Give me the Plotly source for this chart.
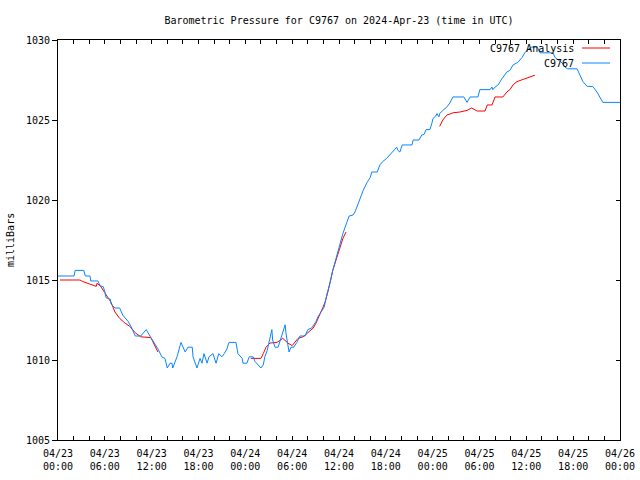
import pandas as pd
import plotly.graph_objects as go

title = "Barometric Pressure for C9767 on 2024-Apr-23 (time in UTC)"
start = "2024-04-23 00:00"
end = "2024-04-26 00:00"

# C9767 observations: hours since 2024-04-23 00:00 UTC, pressure (mb)
obs_hours = [0, 2.05, 2.2, 3.3, 3.5, 4.1, 4.2, 5.1, 5.4, 5.8, 6.0, 6.15, 6.7, 6.8, 7.3, 7.9,
             8.3, 9.0, 9.35, 9.9, 10.6, 11.3, 11.9, 12.4, 12.8, 13.3, 13.7, 14.0, 14.35, 14.6,
             14.7, 15.25, 15.75, 16.3, 16.65, 17.2, 17.3, 17.8, 18.2, 18.45, 18.7, 19.1, 19.35,
             19.85, 20.25, 20.6, 21.0, 21.3, 21.65, 21.9, 22.8, 23.05, 23.6, 23.7, 24.2, 24.5,
             25.0, 25.25, 25.6, 26.0, 26.3, 26.5, 26.8, 27.0, 27.4, 27.5, 27.8, 28.2, 28.6,
             28.8, 29.1, 29.2, 29.45, 29.6, 29.85, 30.2, 30.6, 31.0, 31.65, 32.0, 32.5, 32.8,
             33.05, 33.3, 33.55, 33.8, 34.1, 34.5, 34.85, 35.2, 35.7, 36.1, 36.5, 36.8, 37.0,
             37.3, 37.8, 38.05, 38.4, 38.7, 39.1, 39.6, 40.0, 40.2, 40.9, 41.25, 41.6, 42.1,
             42.5, 42.9, 43.4, 43.55, 43.8, 44.1, 45.35, 45.5, 46.25, 46.6, 46.9, 47.15, 47.65,
             47.9, 48.05, 48.4, 48.55, 48.8, 48.9, 49.3, 49.8, 50.2, 50.6, 52.0, 52.4, 52.8,
             53.8, 54.05, 55.35, 55.6, 55.7, 56.0, 56.4, 56.9, 57.5, 57.9, 58.3, 58.9, 59.45,
             59.8, 60.2, 60.7, 61.4, 61.75, 63.4, 63.7, 64.05, 64.6, 64.95, 65.3, 66.5, 66.9,
             67.25, 67.8, 68.5, 69.05, 69.4, 69.8, 72.0]
obs_mb = [1015.25, 1015.25, 1015.6, 1015.6, 1015.25, 1015.25, 1014.94, 1014.94, 1014.64,
          1014.58, 1014.27, 1013.9, 1013.8, 1013.5, 1013.25, 1013.25, 1012.8, 1012.4, 1012.1,
          1011.5, 1011.5, 1011.9, 1011.4, 1011.0, 1010.7, 1010.2, 1010.1, 1009.5, 1009.8,
          1009.8, 1009.5, 1010.2, 1011.1, 1010.5, 1010.8, 1010.8, 1010.2, 1009.5, 1010.1,
          1009.8, 1010.4, 1009.8, 1010.2, 1010.4, 1009.8, 1010.4, 1010.2, 1010.4, 1010.7,
          1011.1, 1011.1, 1010.4, 1010.1, 1009.8, 1009.8, 1010.2, 1010.2, 1009.9, 1009.7,
          1009.5, 1009.7, 1010.2, 1010.6, 1011.06, 1011.9, 1011.25, 1010.8, 1010.8, 1011.45,
          1011.75, 1012.2, 1011.7, 1010.8, 1010.5, 1010.8, 1010.8, 1011.1, 1011.5, 1011.5,
          1011.9, 1012.0, 1012.2, 1012.4, 1012.7, 1012.9, 1013.1, 1013.3, 1014.2, 1014.8,
          1015.6, 1016.4, 1017.2, 1017.9, 1018.25, 1018.6, 1019.0, 1019.06, 1019.25, 1019.7,
          1020.1, 1020.6, 1021.1, 1021.4, 1021.75, 1021.75, 1022.2, 1022.4, 1022.6, 1022.8,
          1023.0, 1023.3, 1023.1, 1023.0, 1023.44, 1023.44, 1023.75, 1023.75, 1024.06, 1024.1,
          1024.4, 1024.4, 1024.8, 1025.1, 1025.25, 1025.4, 1025.2, 1025.4, 1025.6, 1025.8,
          1026.06, 1026.44, 1026.44, 1026.1, 1026.44, 1026.44, 1026.9, 1026.9, 1027.06,
          1026.9, 1027.06, 1027.2, 1027.6, 1028.0, 1028.1, 1028.44, 1028.6, 1028.9, 1029.2,
          1029.4, 1029.56, 1029.56, 1029.2, 1029.2, 1028.9, 1028.75, 1028.56, 1028.3, 1028.2,
          1028.2, 1027.8, 1027.4, 1027.1, 1027.1, 1026.75, 1026.44, 1026.1, 1026.1]

# C9767 Analysis: hours since start, pressure (mb); None marks gaps
ana_hours = [0.25, 2.8, 3.2, 3.85, 4.5, 4.9, 5.0, 5.5, 6.0, 6.4, 6.8, 7.3, 7.9, 8.6, 9.2,
             9.9, 10.6, 11.9, 12.4, 12.8, 12.9,
             24.7, 26.0, 26.3, 26.65, 27.15, 28.05, 28.8, 29.1, 29.45, 30.0, 30.35, 30.75,
             31.4, 32.0, 32.7, 33.05, 33.45, 33.95, 34.2, 34.6, 35.2, 35.7, 36.1, 36.5, 36.9,
             37.0,
             48.9, 49.3, 49.8, 50.6, 51.5, 52.4, 53.0, 53.7, 54.7, 55.0, 55.6, 56.0, 57.0,
             57.5, 57.9, 58.3, 58.8, 59.45, 60.1, 60.5, 61.1]
ana_mb = [1015.0, 1015.0, 1014.9, 1014.8, 1014.7, 1014.6, 1014.8, 1014.58, 1014.2, 1013.9,
          1013.6, 1013.0, 1012.6, 1012.3, 1012.1, 1011.7, 1011.45, 1011.4, 1010.9, 1010.5, None,
          1010.1, 1010.1, 1010.4, 1010.8, 1011.06, 1011.1, 1011.35, 1011.2, 1011.06, 1010.9,
          1011.1, 1011.35, 1011.45, 1011.7, 1012.0, 1012.3, 1012.8, 1013.3, 1013.6, 1014.3,
          1015.6, 1016.4, 1017.0, 1017.6, 1018.0, None,
          1024.6, 1025.0, 1025.3, 1025.45, 1025.5, 1025.6, 1025.75, 1025.56, 1025.56,
          1025.94, 1025.94, 1026.44, 1026.44, 1026.75, 1026.9, 1027.2, 1027.4, 1027.5,
          1027.6, 1027.7, 1027.8]

series_names = ["C9767 Analysis", "C9767"]
series_colors = ["#ff0000", "#0a84ff"]

t0 = pd.Timestamp(start)
obs_t = [t0 + pd.Timedelta(hours=h) for h in obs_hours]
ana_t = [t0 + pd.Timedelta(hours=h) for h in ana_hours]

FONT = "DejaVu Sans Mono"

fig = go.Figure()
fig.add_trace(go.Scatter(x=ana_t, y=ana_mb, mode="lines", name=series_names[0],
                         line=dict(color=series_colors[0], width=1), connectgaps=False))
fig.add_trace(go.Scatter(x=obs_t, y=obs_mb, mode="lines", name=series_names[1],
                         line=dict(color=series_colors[1], width=1)))
# invisible trace to enable right-hand axis ticks
fig.add_trace(go.Scatter(x=[t0], y=[1005], yaxis="y2", mode="markers",
                         marker=dict(opacity=0), showlegend=False, hoverinfo="skip"))

fig.update_layout(
    width=640, height=480,
    margin=dict(l=58, r=20, t=40, b=40, autoexpand=False),
    paper_bgcolor="white", plot_bgcolor="white",
    font=dict(family=FONT, size=10, color="black"),
    showlegend=False,
    title=dict(text=title, x=0.5, xref="paper", y=1 - 20 / 480, yanchor="middle",
               font=dict(family=FONT, size=10)),
    xaxis=dict(type="date", range=[start, end], tick0=start, dtick=6 * 3600 * 1000,
               tickformat="%m/%d<br>%H:%M", ticks="inside", ticklen=4, tickcolor="black",
               ticklabelstandoff=4,
               minor=dict(dtick=2 * 3600 * 1000, ticks="inside", ticklen=4, tickcolor="black"),
               showgrid=False, zeroline=False, showline=True, linecolor="black", linewidth=1,
               mirror="allticks", automargin=False),
    yaxis=dict(range=[1005, 1030], dtick=5, ticks="outside", ticklen=5, tickcolor="black",
               showgrid=False, zeroline=False, showline=True, linecolor="black", linewidth=1,
               mirror=True, automargin=False),
    yaxis2=dict(range=[1005, 1030], dtick=5, overlaying="y", side="right", ticks="inside",
                ticklen=4, tickcolor="black", showticklabels=False, showgrid=False,
                zeroline=False, showline=False, automargin=False),
)

fig.add_annotation(text="milliBars", textangle=-90, xref="paper", yref="paper",
                   x=-(58 - 10) / 562, y=0.5, showarrow=False, xanchor="center",
                   yanchor="middle", font=dict(family=FONT, size=10))

# legend drawn gnuplot-style (text right-justified, sample line to the right)
leg_y = [1 - (48 - 40) / 400, 1 - (63 - 40) / 400]
for name, col, yy in zip(series_names, series_colors, leg_y):
    fig.add_annotation(text=name, xref="paper", yref="paper", x=(576 - 58) / 562, y=yy,
                       xanchor="right", yanchor="middle", showarrow=False,
                       font=dict(family=FONT, size=10), bgcolor="rgba(0,0,0,0)")
    fig.add_shape(type="line", xref="paper", yref="paper", x0=(582 - 58) / 562,
                  x1=(610 - 58) / 562, y0=yy, y1=yy, line=dict(color=col, width=1))

fig.write_html("out.html", config={"displayModeBar": False},
               post_script="document.body.style.margin='0';")
